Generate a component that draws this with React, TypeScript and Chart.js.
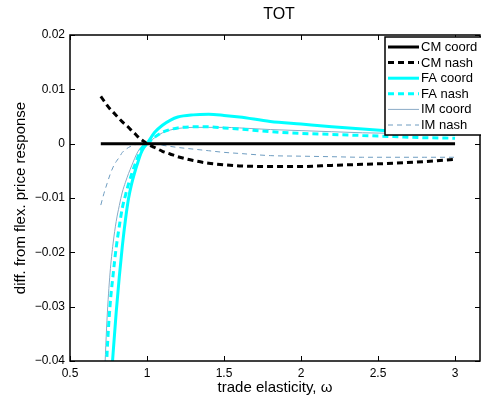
import { useEffect, useRef } from "react";
import { Chart, registerables } from "chart.js";

Chart.register(...registerables);

// Trade elasticity grid (omega) and each regime's deviation from the flex-price response
const omega = [
  0.7, 0.72, 0.74, 0.76, 0.78, 0.8, 0.82, 0.84, 0.86, 0.88, 0.9, 0.92, 0.94, 0.96, 0.98, 1.0,
  1.05, 1.1, 1.15, 1.2, 1.3, 1.4, 1.5, 1.6, 1.8, 2.0, 2.2, 2.4, 2.6, 2.8, 3.0,
];

const cmCoord = [
  0, 0, 0, 0, 0, 0, 0, 0, 0, 0, 0, 0, 0, 0, 0, 0,
  0, 0, 0, 0, 0, 0, 0, 0, 0, 0, 0, 0, 0, 0, 0,
];

const cmNash = [
  0.0087, 0.0079, 0.0071, 0.0064, 0.0058, 0.0052, 0.0046, 0.004, 0.0035, 0.003, 0.0024, 0.0019, 0.0013, 0.0008, 0.0004, 0,
  -0.0007, -0.0014, -0.0019, -0.0024, -0.0031, -0.0036, -0.0039, -0.0041, -0.0042, -0.0042, -0.004, -0.0038, -0.0036, -0.0033, -0.0029,
];

const faCoord = [
  -0.073, -0.064, -0.055, -0.0465, -0.0385, -0.031, -0.0245, -0.0188, -0.014, -0.0101, -0.0074, -0.0053, -0.0035, -0.0018, -0.0007, 0,
  0.0021, 0.0034, 0.0043, 0.0049, 0.0053, 0.0054, 0.0052, 0.0049, 0.0041, 0.0036, 0.0031, 0.0027, 0.0023, 0.002, 0.0017,
];

const faNash = [
  -0.065, -0.054, -0.039, -0.0298, -0.0241, -0.0191, -0.0152, -0.0118, -0.0095, -0.0074, -0.0056, -0.004, -0.0025, -0.0011, -0.0004, 0,
  0.0012, 0.0021, 0.0026, 0.0029, 0.0031, 0.0031, 0.0029, 0.0027, 0.0022, 0.0019, 0.0017, 0.0015, 0.0013, 0.0011, 0.001,
];

const imCoord = [
  -0.062, -0.046, -0.0325, -0.0238, -0.0183, -0.0143, -0.0114, -0.0089, -0.0071, -0.0055, -0.0041, -0.0027, -0.0015, -0.0007, -0.0002, 0,
  0.0011, 0.002, 0.0025, 0.0028, 0.003, 0.003, 0.003, 0.0029, 0.0026, 0.0024, 0.0022, 0.002, 0.0019, 0.0017, 0.0016,
];

const imNash = [
  -0.0113, -0.0092, -0.0074, -0.0057, -0.0043, -0.0033, -0.0025, -0.0016, -0.0011, -0.0007, -0.0004, -0.0002, -0.0001, -0.00005, 0, 0,
  -0.0001, -0.0003, -0.0005, -0.0007, -0.001, -0.0013, -0.0016, -0.0018, -0.0022, -0.0023, -0.0024, -0.0025, -0.0025, -0.0025, -0.0025,
];

const xTicks = [0.5, 1, 1.5, 2, 2.5, 3];
const yTicks = [-0.04, -0.03, -0.02, -0.01, 0, 0.01, 0.02];

const FONT = '"Liberation Sans", Arial, Helvetica, sans-serif';

const pts = (ys: number[]) => omega.map((x, i) => ({ x, y: ys[i] }));

const fmtY = (v: number) => {
  if (Math.abs(v) < 1e-9) return "0";
  const s = Math.abs(v).toFixed(2);
  return v < 0 ? "\u2212" + s : s;
};

// Axes box, inward tick marks, title and the in-axes legend
const decorations = {
  id: "decorations",
  afterDatasetsDraw(chart: any) {
    const { ctx, chartArea } = chart;
    const { left, right, top, bottom } = chartArea;
    const xs = chart.scales.x;
    const ys = chart.scales.y;
    ctx.save();
    ctx.strokeStyle = "#000";
    ctx.lineWidth = 1.5;
    ctx.strokeRect(left, top, right - left, bottom - top);
    ctx.lineWidth = 1;
    const tl = 5;
    ctx.beginPath();
    for (const v of xTicks) {
      const px = Math.round(xs.getPixelForValue(v)) + 0.5;
      ctx.moveTo(px, bottom);
      ctx.lineTo(px, bottom - tl);
      ctx.moveTo(px, top);
      ctx.lineTo(px, top + tl);
    }
    for (const v of yTicks) {
      const py = Math.round(ys.getPixelForValue(v)) + 0.5;
      ctx.moveTo(left, py);
      ctx.lineTo(left + tl, py);
      ctx.moveTo(right, py);
      ctx.lineTo(right - tl, py);
    }
    ctx.stroke();

    // title
    ctx.fillStyle = "#000";
    ctx.font = `16px ${FONT}`;
    ctx.textAlign = "center";
    ctx.textBaseline = "middle";
    ctx.fillText("TOT", (left + right) / 2 + 4, 15);

    // legend
    const lx = 385;
    const ly = 37;
    const lw = 100;
    const lh = 98;
    ctx.fillStyle = "#fff";
    ctx.fillRect(lx, ly, lw, lh);
    ctx.lineWidth = 1.5;
    ctx.strokeStyle = "#000";
    ctx.strokeRect(lx, ly, lw, lh);
    ctx.font = `13px ${FONT}`;
    ctx.textAlign = "left";
    chart.data.datasets.forEach((ds: any, i: number) => {
      const ry = ly + 10 + i * 15.6;
      ctx.beginPath();
      ctx.strokeStyle = ds.borderColor;
      ctx.lineWidth = ds.borderWidth;
      ctx.setLineDash(ds.borderDash || []);
      ctx.moveTo(388, ry);
      ctx.lineTo(419, ry);
      ctx.stroke();
      ctx.setLineDash([]);
      ctx.fillStyle = "#000";
      ctx.fillText(ds.label, 421, ry + 0.5);
    });
    ctx.restore();
  },
};

export default function App() {
  const ref = useRef<HTMLCanvasElement | null>(null);

  useEffect(() => {
    if (!ref.current) return;
    const line = (label: string, data: number[], color: string, width: number, dash: number[]) => ({
      label,
      data: pts(data),
      borderColor: color,
      backgroundColor: color,
      borderWidth: width,
      borderDash: dash,
      pointRadius: 0,
      fill: false,
      cubicInterpolationMode: "monotone" as const,
      clip: 0,
    });
    const chart = new Chart(ref.current, {
      type: "line",
      data: {
        datasets: [
          line("CM coord", cmCoord, "#000000", 3, []),
          line("CM nash", cmNash, "#000000", 3, [6, 4]),
          line("FA coord", faCoord, "#00ffff", 3, []),
          line("FA nash", faNash, "#00ffff", 3, [6, 4]),
          line("IM coord", imCoord, "#8aabc6", 1, []),
          line("IM nash", imNash, "#6e9cc0", 1, [5, 4]),
        ],
      },
      options: {
        animation: false,
        responsive: false,
        devicePixelRatio: 1,
        layout: { padding: { top: 35, left: 0, right: 1, bottom: 0 } },
        plugins: {
          legend: { display: false },
          title: { display: false },
          tooltip: { enabled: false },
        },
        scales: {
          x: {
            type: "linear",
            min: 0.5,
            max: 3.162,
            grid: { display: false, drawTicks: false },
            border: { display: false },
            afterBuildTicks: (s: any) => {
              s.ticks = xTicks.map((value) => ({ value }));
            },
            afterFit: (s: any) => {
              s.height = 40;
            },
            ticks: {
              padding: 5,
              color: "#000",
              maxRotation: 0,
              autoSkip: false,
              font: { family: FONT, size: 12 },
              callback: (v: any) => String(v),
            },
            title: {
              display: true,
              text: "trade elasticity, \u03c9",
              color: "#000",
              font: { family: FONT, size: 15 },
              padding: { top: 0, bottom: 4 },
            },
          },
          y: {
            type: "linear",
            min: -0.04,
            max: 0.02,
            grid: { display: false, drawTicks: false },
            border: { display: false },
            afterBuildTicks: (s: any) => {
              s.ticks = yTicks.map((value) => ({ value }));
            },
            afterFit: (s: any) => {
              s.width = 70;
            },
            ticks: {
              padding: 5,
              color: "#000",
              autoSkip: false,
              font: { family: FONT, size: 12 },
              callback: (v: any) => fmtY(Number(v)),
            },
            title: {
              display: true,
              text: "diff. from flex. price response",
              color: "#000",
              font: { family: FONT, size: 15 },
              padding: { top: 12, bottom: 0 },
            },
          },
        },
      },
      plugins: [decorations],
    });
    return () => chart.destroy();
  }, []);

  return (
    <div style={{ position: "fixed", left: 0, top: 0, width: 481, height: 401, background: "#fff" }}>
      <canvas ref={ref} width={481} height={401} style={{ display: "block" }} />
    </div>
  );
}
